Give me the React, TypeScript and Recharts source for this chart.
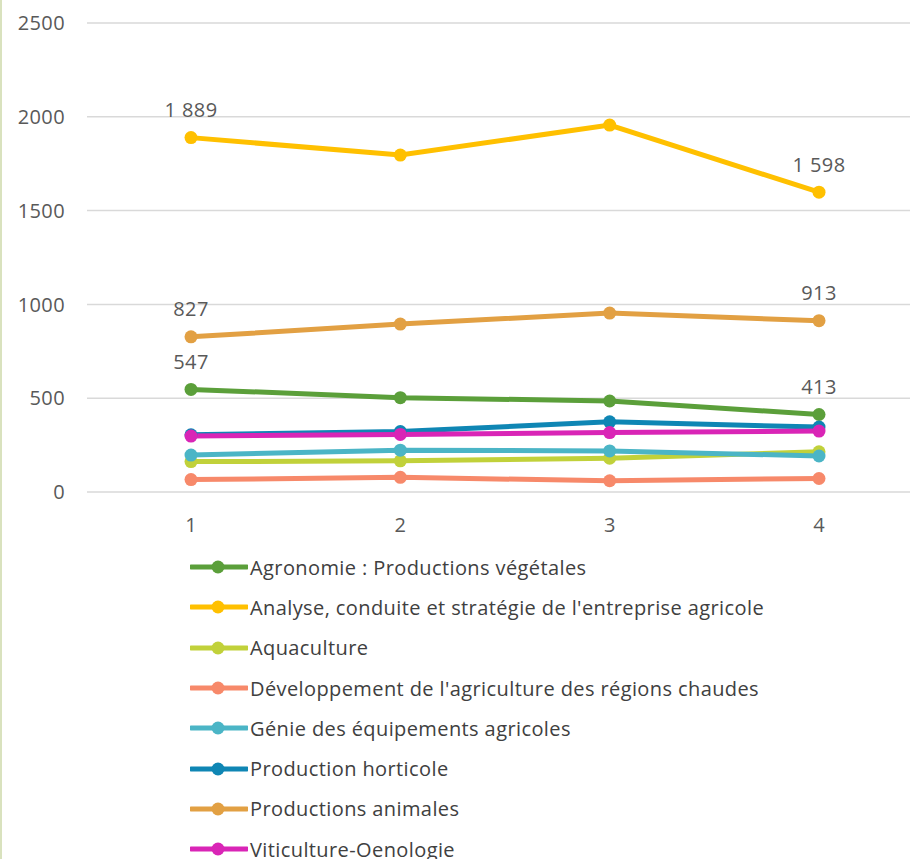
import React from "react";
import { LineChart, Line, XAxis, YAxis, CartesianGrid, Legend, LabelList } from "recharts";

const categories = ["1", "2", "3", "4"];
const seriesNames = [
  "Agronomie : Productions végétales",
  "Analyse, conduite et stratégie de l'entreprise agricole",
  "Aquaculture",
  "Développement de l'agriculture des régions chaudes",
  "Génie des équipements agricoles",
  "Production horticole",
  "Productions animales",
  "Viticulture-Oenologie",
];
const agronomie = [547, 503, 485, 413];
const analyse = [1889, 1796, 1956, 1598];
const aquaculture = [162, 166, 180, 214];
const developpement = [66, 78, 60, 72];
const genie = [197, 223, 219, 192];
const horticole = [305, 322, 374, 346];
const animales = [827, 895, 954, 913];
const viticulture = [298, 307, 317, 325];
const yTicks = [0, 500, 1000, 1500, 2000, 2500];
const labelledSeries = ["s0", "s1", "s6"];

const seriesValues = [agronomie, analyse, aquaculture, developpement, genie, horticole, animales, viticulture];
const colors = ["#5B9F3A", "#FFC000", "#C1D13A", "#F7896A", "#4BB5C6", "#0F86B4", "#E2A043", "#D925B6"];

const data = categories.map((c, i) => {
  const row: any = { cat: c };
  seriesValues.forEach((vals, s) => {
    row["s" + s] = vals[i];
  });
  return row;
});

const fmt = (v: number) => String(v).replace(/\B(?=(\d{3})+(?!\d))/g, " ");

const FONT = "'Open Sans', sans-serif";

const renderLabel = (props: any) => {
  const { x, y, value, index } = props;
  if (index !== 0 && index !== categories.length - 1) return null;
  return (
    <text x={x} y={y - 28} textAnchor="middle" dominantBaseline="central" fill="#595959" fontSize={20} letterSpacing={0.4} fontFamily={FONT}>
      {fmt(value)}
    </text>
  );
};

const LegendContent = () => (
  <div style={{ fontFamily: FONT, fontSize: 20, letterSpacing: 0.4, color: "#404040", textAlign: "left" }}>
    {seriesNames.map((n, i) => (
      <div key={n} style={{ height: 40.3, display: "flex", alignItems: "center", whiteSpace: "nowrap" }}>
        <svg width={58} height={16} style={{ display: "block" }}>
          <line x1={1} y1={8} x2={57} y2={8} stroke={colors[i]} strokeWidth={5} strokeLinecap="round" />
          <circle cx={28} cy={8} r={6.5} fill={colors[i]} />
        </svg>
        <span style={{ marginLeft: 2 }}>{n}</span>
      </div>
    ))}
  </div>
);

export default function App() {
  return (
    <div style={{ position: "fixed", left: 0, top: 0, width: 910, height: 859, overflow: "hidden", background: "#fff" }}>
      <div style={{ position: "absolute", left: 0, top: 0, width: 2, height: 859, background: "#D9E2BE", zIndex: 2 }} />
      <LineChart width={940} height={870} data={data} margin={{ top: 23, right: 17, left: 0, bottom: 0 }}>
        <CartesianGrid vertical={false} stroke="#D9D9D9" strokeWidth={1.5} />
        <XAxis
          dataKey="cat"
          axisLine={false}
          tickLine={false}
          padding={{ left: 104, right: 104 }}
          height={55}
          tickMargin={20}
          tick={{ fill: "#595959", fontSize: 20, fontFamily: FONT }}
        />
        <YAxis
          domain={[0, 2500]}
          ticks={yTicks}
          axisLine={false}
          tickLine={false}
          width={87}
          tickMargin={16}
          tick={{ fill: "#595959", fontSize: 20, fontFamily: FONT, letterSpacing: 0.4 }}
        />
        <Legend
          verticalAlign="bottom"
          align="left"
          layout="horizontal"
          content={<LegendContent />}
          wrapperStyle={{ left: 190, width: 720, height: 323 }}
        />
        {seriesNames.map((n, i) => (
          <Line
            key={n}
            name={n}
            dataKey={"s" + i}
            stroke={colors[i]}
            strokeWidth={5}
            dot={{ r: 6.5, fill: colors[i], stroke: colors[i], strokeWidth: 0 }}
            activeDot={false}
            isAnimationActive={false}
          >
            {labelledSeries.includes("s" + i) && <LabelList dataKey={"s" + i} content={renderLabel} />}
          </Line>
        ))}
      </LineChart>
    </div>
  );
}
